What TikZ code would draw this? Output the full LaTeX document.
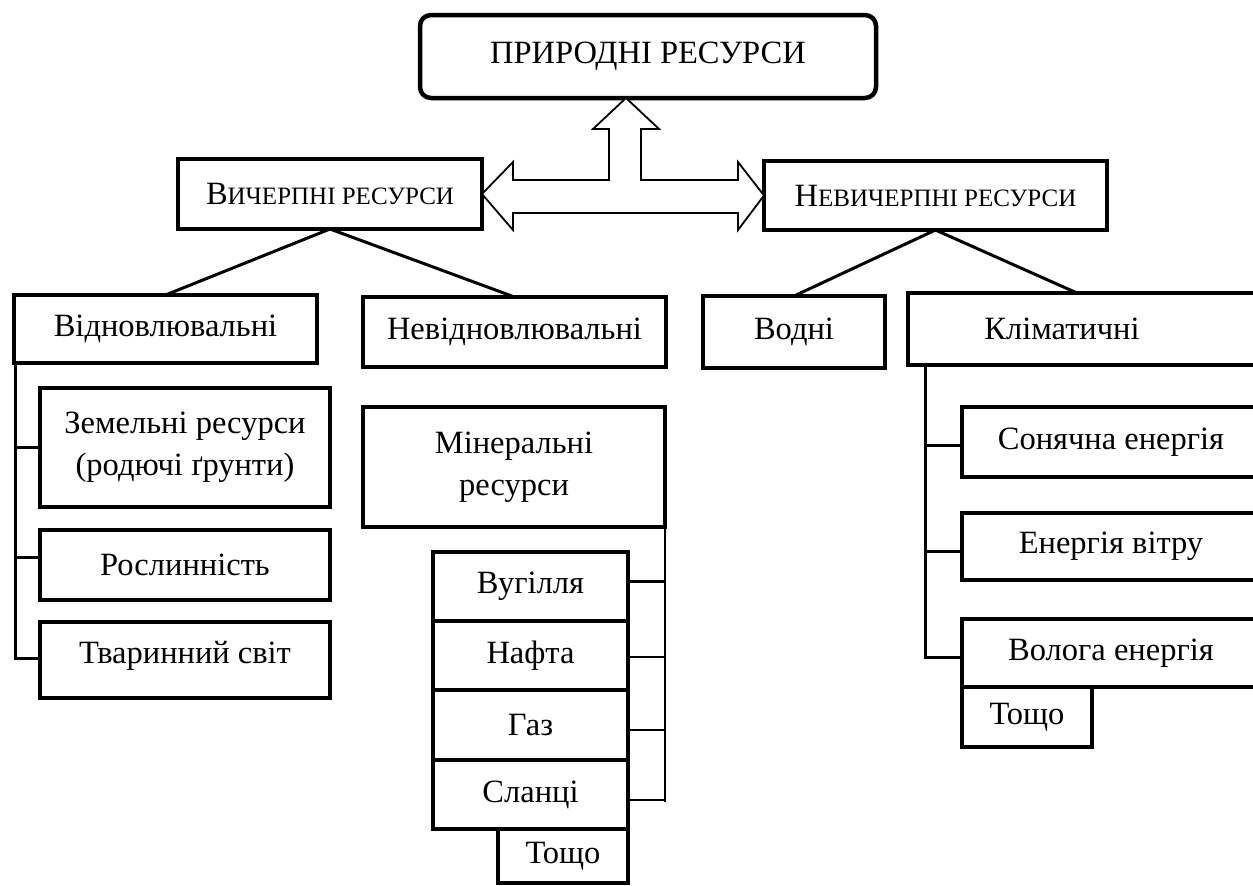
\documentclass[tikz,border=0pt]{standalone}
\usepackage{fontspec}
\setmainfont{Liberation Serif}
\usetikzlibrary{positioning,calc}
\tikzset{
  resbox/.style={draw,line width=4.5pt,inner sep=0pt,outer sep=0pt,align=center,
    font=\fontsize{32.5}{42}\selectfont},
  topbox/.style={resbox,rounded corners=11pt,line width=4.5pt},
  link/.style={line width=3pt},
  thinlink/.style={line width=2.6pt},
  bigarrow/.style={draw,fill=white,line width=1.8pt,line join=miter}
}
\newcommand{\lowcaps}[1]{{\fontsize{25}{28}\selectfont #1}}

\begin{document}
\begin{tikzpicture}[x=1pt,y=-1pt]
  \useasboundingbox (0,0) rectangle (1253,886);
  \clip (0,0) rectangle (1253,886);

  % top level
  \node[topbox,minimum width=456pt,minimum height=83pt] (nature) at (648,56.5) {ПРИРОДНІ РЕСУРСИ};
  \node[resbox,minimum width=304pt,minimum height=70pt] (exh) at (330,194) {В\lowcaps{ИЧЕРПНІ РЕСУРСИ}};
  \node[resbox,minimum width=343pt,minimum height=69pt] (inexh) at (935.5,195.5) {Н\lowcaps{ЕВИЧЕРПНІ РЕСУРСИ}};

  % block arrow
  \draw[bigarrow] (626,98) -- (659,129) -- (641,129) -- (641,180) -- (738,180) -- (738,162)
    -- (inexh.west) -- (738,230) -- (738,213) -- (513,213) -- (513,230) -- (exh.east)
    -- (513,162) -- (513,180) -- (609,180) -- (609,129) -- (593,129) -- cycle;

  % exhaustible
  \node[resbox,minimum width=303pt,minimum height=68pt] (renew) at (165.5,329) {Відновлювальні};
  \node[resbox,minimum width=303pt,minimum height=70pt] (nonrenew) at (514.5,332) {Невідновлювальні};
  \draw[link] (exh.south) -- (renew.north);
  \draw[link] (exh.south) -- (nonrenew.north);

  \node[resbox,minimum width=290pt,minimum height=119pt] (land) at (185,447.5) {Земельні ресурси\\(родючі ґрунти)};
  \node[resbox,minimum width=290pt,minimum height=70pt] (flora) at (185,565) {Рослинність};
  \node[resbox,minimum width=290pt,minimum height=76pt,text depth=16pt] (fauna) at (185,660) {Тваринний світ};
  \draw[link] ([xshift=1pt]renew.south west) |- ([yshift=2pt]fauna.west);
  \draw[link] ([xshift=1pt]renew.south west |- land.west) -- (land.west);
  \draw[link] ([xshift=1pt,yshift=8pt]renew.south west |- flora.west) -- ([yshift=8pt]flora.west);

  \node[resbox,minimum width=302pt,minimum height=120pt] (mineral) at (514,467) {Мінеральні\\ресурси};
  \node[resbox,minimum width=195pt,minimum height=69pt] (coal) at (530.5,586.5) {Вугілля};
  \node[resbox,minimum width=195pt,minimum height=69pt,below=0pt of coal] (oil) {Нафта};
  \node[resbox,minimum width=195pt,minimum height=70pt,below=0pt of oil] (gas) {Газ};
  \node[resbox,minimum width=195pt,minimum height=69pt,below=0pt of gas] (shale) {Сланці};
  \node[resbox,minimum width=130pt,minimum height=54pt,anchor=north east] (restmin) at (shale.south east) {Тощо};
  \coordinate (minrail) at ([yshift=-275pt]mineral.south east);
  \draw[thinlink] (mineral.south east) -- (minrail);
  \draw[thinlink] ([yshift=5pt]coal.east) -- ([yshift=5pt]minrail |- coal.east);
  \draw[thinlink] ([yshift=-1.5pt]oil.east) -- ([yshift=-1.5pt]minrail |- oil.east);
  \draw[thinlink] ([yshift=-5pt]gas.east) -- ([yshift=-5pt]minrail |- gas.east);
  \draw[thinlink] ([yshift=-5.5pt]shale.east) -- ([yshift=-5.5pt]minrail |- shale.east);

  % inexhaustible
  \node[resbox,minimum width=182pt,minimum height=72pt] (water) at (794,332) {Водні};
  \node[resbox,minimum width=362pt,minimum height=72pt,anchor=north west] (climate) at (908,293) {};
  \node[font=\fontsize{32.5}{42}\selectfont] (climtext) at (1062,329) {Кліматичні};
  \draw[link] (inexh.south) -- (water.north);
  \draw[link] (inexh.south) -- ($(climate.north west)+(169,0)$);

  \node[resbox,minimum width=298pt,minimum height=70pt] (solar) at (1111,442) {Сонячна енергія};
  \node[resbox,minimum width=298pt,minimum height=67pt] (wind) at (1111,546.5) {Енергія вітру};
  \node[resbox,minimum width=298pt,minimum height=68pt] (humid) at (1111,653) {Волога енергія};
  \node[resbox,minimum width=130pt,minimum height=60pt,anchor=north west] (restclim) at (humid.south west) {Тощо};
  \coordinate (climrail) at ($(climate.south west)+(17,0)$);
  \draw[link] (climrail) |- ([yshift=-4pt]humid.west);
  \draw[link] (climrail |- solar.west) ++(0,3) -- ([yshift=-3pt]solar.west);
  \draw[link] (climrail |- wind.west) ++(0,4.5) -- ([yshift=-4.5pt]wind.west);
\end{tikzpicture}
\end{document}
